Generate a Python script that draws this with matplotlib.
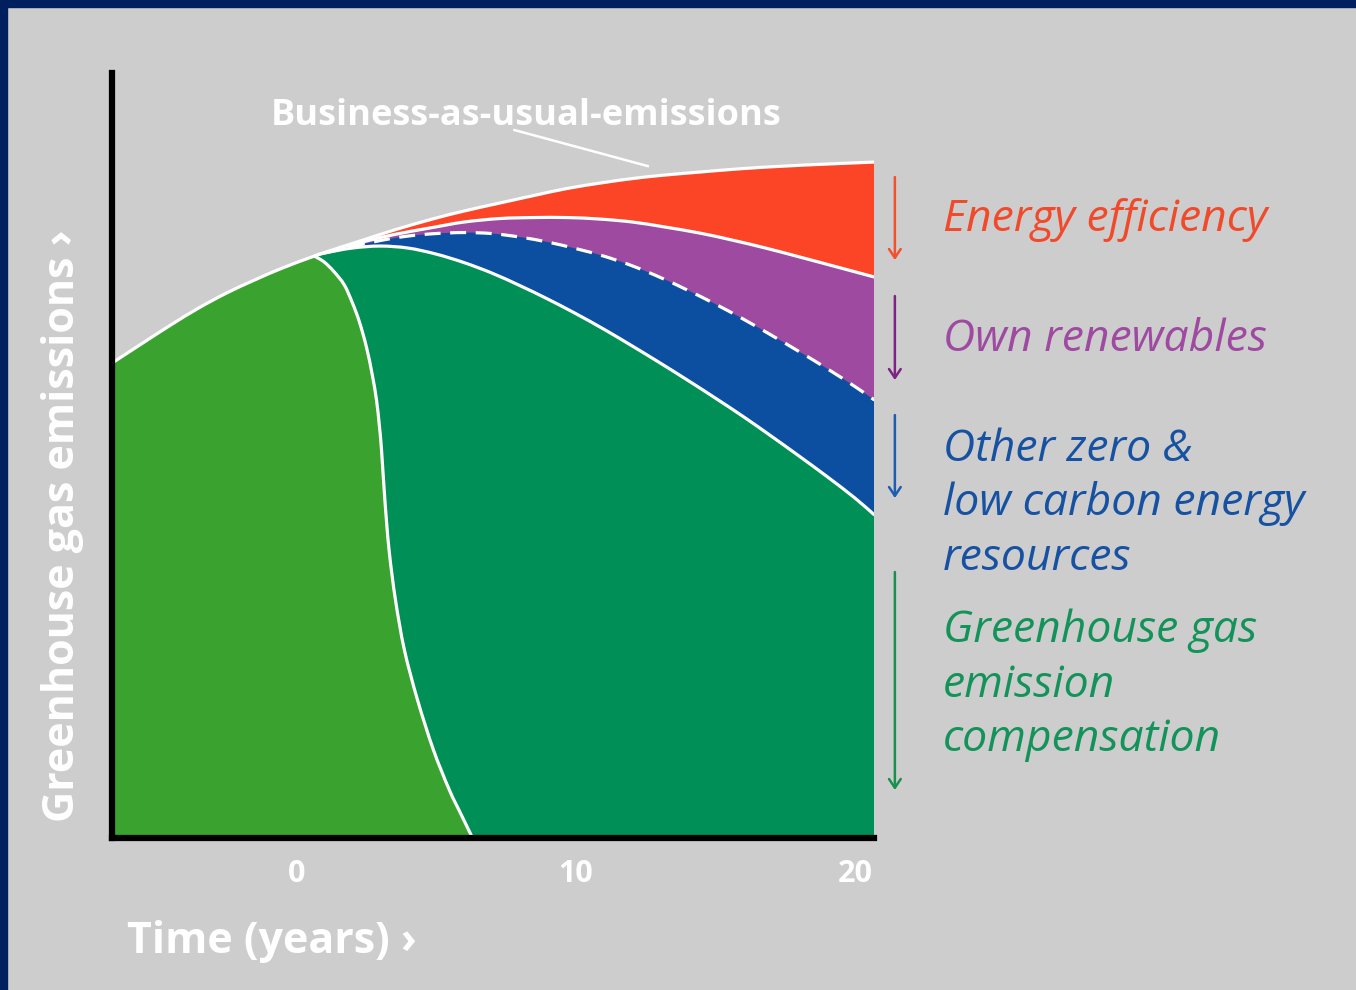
import numpy as np
import matplotlib
matplotlib.use("Agg")
import matplotlib.pyplot as plt
from matplotlib.patches import Rectangle, PathPatch
from matplotlib.path import Path

# ---------------- data (x: years, y: emission index, arbitrary units) ----------------
bau_x = [-6.6, -5.5, -4.5, -3.5, -2.5, -1.5, -0.5, 0.645, 1.5, 2.5, 3.5, 4.87, 6, 7.28, 8.5, 9.68,
         11, 12.04, 13, 14.44, 16, 17.5, 19, 20.7]
bau_y = [475, 495, 513, 530, 545, 558, 570, 582, 590, 599, 608, 619, 627, 635, 642.5, 649.5,
         655.5, 659.5, 662.5, 666, 669.5, 672, 674, 676]

eff_x = [1.5, 2.5, 3.5, 4.87, 6, 7.28, 8.5, 9.68, 10.86, 12.04, 13.2, 14.44, 15.6, 16.8, 18.03, 19.3, 20.7]
eff_y = [590, 597, 603.5, 610.5, 616, 619.5, 620.5, 620.5, 619, 616, 611, 605, 598, 590, 581, 571.5, 561]

ren_x = [1.0, 2, 3, 4, 5, 6, 7, 8, 9, 10, 11, 12, 13, 14, 15, 16, 17, 18, 19, 20, 20.7]
ren_y = [585, 591.5, 597.5, 602, 604.5, 605.5, 604.5, 601, 596, 589.5, 582, 572.5, 561, 548, 534, 519,
         503, 486.5, 469.5, 451.5, 438]

low_x = [0.645, 1, 2, 3, 4, 5, 6, 7, 8, 9, 10, 11, 12, 13, 14, 15, 16, 17, 18, 19, 20, 20.7]
low_y = [582, 585, 590, 592, 590, 584, 575.5, 565, 552.5, 539, 524.5, 509, 492.5, 475.5, 458, 440,
         421.5, 402, 382, 361.5, 340, 323]

comp_x = [0.645, 1.00, 1.36, 1.72, 2.01, 2.26, 2.51, 2.72, 2.87, 2.97, 3.05, 3.17, 3.32, 3.55, 3.87, 4.34,
          4.91, 5.48, 5.91, 6.31]
comp_y = [582, 576, 566, 553, 535, 516, 491, 463, 438, 413, 388, 338, 288, 238, 188, 138,
          88, 48, 23, 0]

xtick_vals = [0, 10, 20]
xtick_labels = ["0", "10", "20"]

labels_right = [
    (["Energy efficiency"], "#f04a2b", [607]),
    (["Own renewables"], "#9d4aa0", [487]),
    (["Other zero &", "low carbon energy", "resources"], "#1651a2", [377, 323, 268]),
    (["Greenhouse gas", "emission", "compensation"], "#13935a", [196, 141, 87]),
]
arrows = [
    (661, 578, "#f2502f"),
    (542, 458, "#7d2384"),
    (423, 340, "#1f5db0"),
    (266, 48, "#1a9050"),
]

# ---------------- colours ----------------
BG = "#cdcdcd"
NAVY = "#001f5f"
C_RED = "#fc4526"
C_PURPLE = "#9d4aa0"
C_BLUE = "#0c4fa1"
C_DKGREEN = "#008f56"
C_LTGREEN = "#3aa22f"


def smooth(x, y):
    """Smooth path (cubic Bezier, Catmull-Rom tangents) through the given points."""
    pts = np.column_stack([x, y]).astype(float)
    n = len(pts)
    verts = [pts[0]]
    codes = [Path.MOVETO]
    for i in range(n - 1):
        p0 = pts[i - 1] if i > 0 else pts[i]
        p1, p2 = pts[i], pts[i + 1]
        p3 = pts[i + 2] if i + 2 < n else pts[i + 1]
        verts += [p1 + (p2 - p0) / 6, p2 - (p3 - p1) / 6, p2]
        codes += [Path.CURVE4] * 3
    return verts, codes


def area_under(x, y):
    v, c = smooth(x, y)
    v = v + [(x[-1], 0), (x[0], 0), (x[0], 0)]
    c = c + [Path.LINETO, Path.LINETO, Path.CLOSEPOLY]
    return Path(v, c)


def line_path(x, y):
    v, c = smooth(x, y)
    return Path(v, c)


fig = plt.figure(figsize=(13.56, 9.90), dpi=100, facecolor=BG)
fig.patches.append(Rectangle((0, 0), 7 / 1356, 1, transform=fig.transFigure, color=NAVY, zorder=0))
fig.patches.append(Rectangle((0, 1 - 7 / 990), 1, 7 / 990, transform=fig.transFigure, color=NAVY, zorder=0))

ax = fig.add_axes([0.0826, 0.1535, 0.5623, 0.7727])
ax.set_facecolor("none")
ax.set_xlim(-6.6, 20.7)
ax.set_ylim(0, 765)

ax.add_patch(PathPatch(area_under(bau_x, bau_y), facecolor=C_RED, lw=0, zorder=1))
ax.add_patch(PathPatch(area_under(eff_x, eff_y), facecolor=C_PURPLE, lw=0, zorder=2))
ax.add_patch(PathPatch(area_under(ren_x, ren_y), facecolor=C_BLUE, lw=0, zorder=3))
ax.add_patch(PathPatch(area_under(low_x, low_y), facecolor=C_DKGREEN, lw=0, zorder=4))

# light green region: below BAU (left part) and left of the compensation boundary
bx, by = np.array(bau_x), np.array(bau_y)
left = bx < comp_x[0]
lx = list(bx[left]) + [comp_x[0]]
ly = list(by[left]) + [comp_y[0]]
v1, c1 = smooth(lx, ly)
v2, c2 = smooth(comp_x, comp_y)
verts = [(lx[0], 0)] + v1 + v2[1:] + [(lx[0], 0)]
codes = [Path.MOVETO] + [Path.LINETO] + c1[1:] + c2[1:] + [Path.CLOSEPOLY]
ax.add_patch(PathPatch(Path(verts, codes), facecolor=C_LTGREEN, lw=0, zorder=5))

# white boundary lines
for xs, ys in [(bau_x, bau_y), (eff_x, eff_y), (low_x, low_y), (comp_x, comp_y)]:
    ax.add_patch(PathPatch(line_path(xs, ys), facecolor="none", edgecolor="white",
                           lw=2.3, zorder=6, capstyle="butt"))
ax.add_patch(PathPatch(line_path(ren_x, ren_y), facecolor="none", edgecolor="white",
                       lw=2.3, zorder=6, linestyle=(0, (5, 3)), capstyle="butt"))

# spines
for s in ["top", "right"]:
    ax.spines[s].set_visible(False)
for s in ["left", "bottom"]:
    ax.spines[s].set_color("black")
    ax.spines[s].set_linewidth(4.5)
    ax.spines[s].set_zorder(10)
    ax.spines[s].set_capstyle("projecting")

ax.set_yticks([])
ax.set_xticks(xtick_vals, labels=xtick_labels)
ax.tick_params(axis="x", length=0, pad=15, labelsize=22, labelcolor="white")
for t in ax.get_xticklabels():
    t.set_fontweight("bold")
    t.set_family("Open Sans")

# business-as-usual label with leader line
ax.text(-0.9, 713, "Business-as-usual-emissions", color="white", fontsize=26,
        fontweight="bold", family="Open Sans", ha="left", va="baseline")
ax.plot([7.81, 12.58], [708, 672], color="white", lw=1.8, clip_on=False, zorder=7)

# right-hand labels and arrows
for lines, col, ys in labels_right:
    for txt, yy in zip(lines, ys):
        ax.text(23.15, yy, txt, color=col, fontsize=32, style="italic",
                family="Open Sans", ha="left", va="baseline", clip_on=False)
for y0, y1, col in arrows:
    ax.annotate("", xy=(21.43, y1), xytext=(21.43, y0), xycoords="data",
                arrowprops=dict(arrowstyle="->,head_length=0.45,head_width=0.3",
                                color=col, lw=1.8, mutation_scale=14, shrinkA=0, shrinkB=0),
                annotation_clip=False)

# axis titles
fig.text(127 / 1356, (990 - 953) / 990, "Time (years) \u203a", color="white", fontsize=31,
         fontweight="bold", family="Open Sans", ha="left", va="baseline")
fig.text(63 / 1356, (990 - 822) / 990, "Greenhouse gas emissions \u203a", color="white",
         fontsize=31, fontweight="bold", family="Open Sans", rotation=90,
         ha="center", va="bottom")

fig.savefig("out.png", dpi=100, facecolor=BG)
